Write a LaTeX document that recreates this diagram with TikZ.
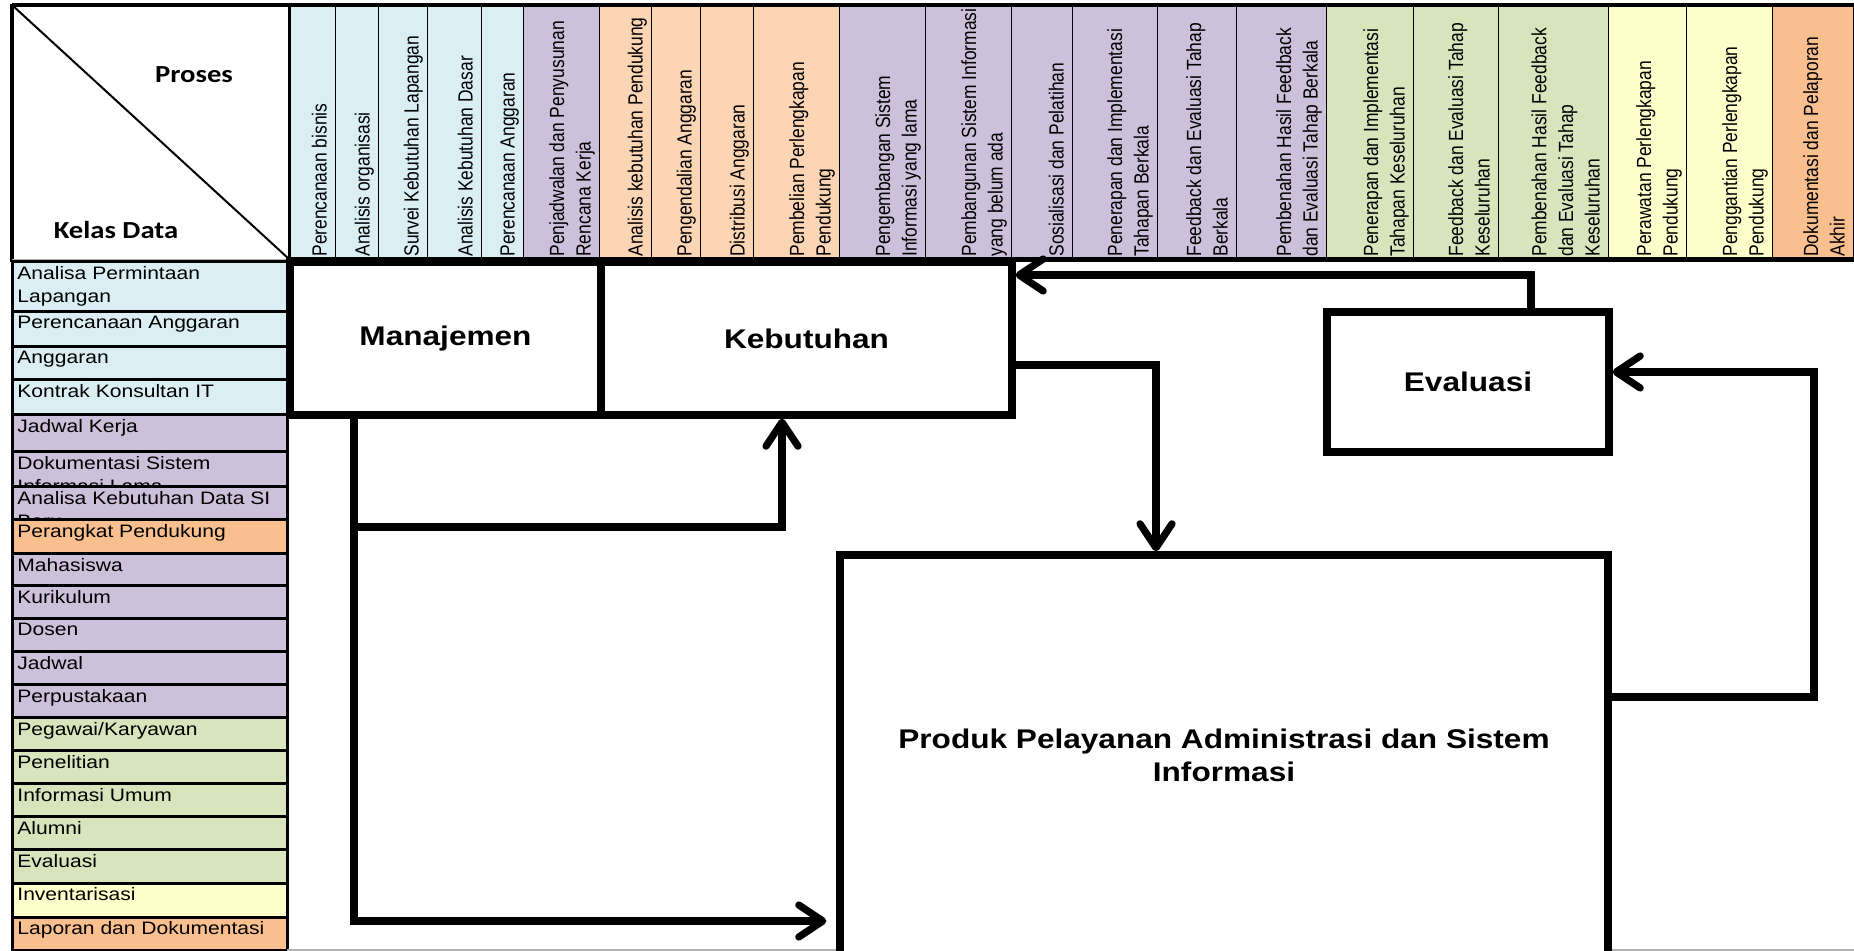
\documentclass[tikz,border=0pt]{standalone}
\usepackage{fontspec}
\setmainfont{Liberation Sans}
\newfontfamily\colfont[FakeStretch=0.85]{Liberation Sans}
\newfontfamily\rowfont[FakeStretch=1.17]{Liberation Sans}
\newfontfamily\boxfont[FakeStretch=1.17]{Liberation Sans}
\newfontfamily\hdrfont[FakeStretch=1.17]{Carlito}
\usetikzlibrary{arrows.meta}
\definecolor{cBlue}{HTML}{DAEEF3}
\definecolor{cPurple}{HTML}{CCC0DA}
\definecolor{cPeach}{HTML}{FCD5B4}
\definecolor{cOrange}{HTML}{FABF8F}
\definecolor{cGreen}{HTML}{D8E4BC}
\definecolor{cYellow}{HTML}{FFFFCC}
\tikzset{
  coltxt/.style={rotate=90, anchor=south west, inner sep=0pt, text depth=2pt, align=left,
    font=\colfont\fontsize{10.25}{13.3}\selectfont},
  rowtxt/.style={anchor=north west, inner sep=0pt, align=left,
    font=\rowfont\fontsize{9}{11.5}\selectfont},
  hdrtxt/.style={inner sep=0pt, font=\hdrfont\bfseries\fontsize{12.25}{14}\selectfont},
  bigbox/.style={draw, line width=3.6pt, fill=white, inner sep=0pt, align=center,
    font=\boxfont\bfseries\fontsize{13.5}{16.5}\selectfont},
  tline/.style={line width=1.5pt},
  conn/.style={line width=3.6pt, -{Straight Barb[length=12pt, width=16pt, line cap=round, line join=round]}}
}
\begin{document}
\begin{tikzpicture}[x=0.5pt, y=-0.5pt]
\useasboundingbox (0,0) rectangle (1854,951);
\fill[white] (0,0) rectangle (1854,951);

% header columns
\foreach \xa/\xb/\cc/\lab [count=\i] in {
  289/336/cBlue/{Perencanaan bisnis},
  336/379/cBlue/{Analisis organisasi},
  379/428/cBlue/{Survei Kebutuhan Lapangan},
  428/482/cBlue/{Analisis Kebutuhan Dasar},
  482/524/cBlue/{Perencanaan Anggaran},
  524/600/cPurple/{Penjadwalan dan Penyusunan\\Rencana Kerja},
  600/652/cPeach/{Analisis kebutuhan Pendukung},
  652/701/cPeach/{Pengendalian Anggaran},
  701/754/cPeach/{Distribusi Anggaran},
  754/840/cPeach/{Pembelian Perlengkapan\\Pendukung},
  840/926/cPurple/{Pengembangan Sistem\\Informasi yang lama},
  926/1012/cPurple/{Pembangunan Sistem Informasi\\yang belum ada},
  1012/1073/cPurple/{Sosialisasi dan Pelatihan},
  1073/1158/cPurple/{Penerapan dan Implementasi\\Tahapan Berkala},
  1158/1237/cPurple/{Feedback dan Evaluasi Tahap\\Berkala},
  1237/1327/cPurple/{Pembenahan Hasil Feedback\\dan Evaluasi Tahap Berkala},
  1327/1414/cGreen/{Penerapan dan Implementasi\\Tahapan Keseluruhan},
  1414/1499/cGreen/{Feedback dan Evaluasi Tahap\\Keseluruhan},
  1499/1609/cGreen/{Pembenahan Hasil Feedback\\dan Evaluasi Tahap\\Keseluruhan},
  1609/1687/cYellow/{Perawatan Perlengkapan\\Pendukung},
  1687/1773/cYellow/{Penggantian Perlengkapan\\Pendukung},
  1773/1854/cOrange/{Dokumentasi dan Pelaporan\\Akhir}}{
  \fill[fill=\cc] (\xa,5) rectangle (\xb,260);
  \node[coltxt] (h\i) at ({\xb-5},257) {\lab};
  \draw[tline] (\xb,5) -- (\xb,260);
}
\draw[tline] (289,5) -- (289,260);
\draw[line width=2pt] (12,5) -- (1854,5);
\draw[line width=2.5pt] (289,260) -- (1854,260);
\draw[line width=2pt] (12,4) -- (12,262);
\draw[gray!60, line width=0.6pt] (12,260) -- (289,260);
\draw[line width=1pt] (12,5) -- (289,259);
\node[hdrtxt] (proses) at (194,75) {Proses};
\node[hdrtxt] (kelas) at (116,230) {Kelas Data};

% rows
\foreach \ya/\yb/\cc/\lab [count=\i] in {
  262/312/cBlue/{Analisa Permintaan\\Lapangan},
  312/347/cBlue/{Perencanaan Anggaran},
  347/380/cBlue/{Anggaran},
  380/415/cBlue/{Kontrak Konsultan IT},
  415/452/cPurple/{Jadwal Kerja},
  452/487/cPurple/{Dokumentasi Sistem\\Informasi Lama},
  487/520/cPurple/{Analisa Kebutuhan Data SI\\Baru},
  520/554/cOrange/{Perangkat Pendukung},
  554/586/cPurple/{Mahasiswa},
  586/619/cPurple/{Kurikulum},
  619/652/cPurple/{Dosen},
  652/685/cPurple/{Jadwal},
  685/718/cPurple/{Perpustakaan},
  718/751/cGreen/{Pegawai/Karyawan},
  751/784/cGreen/{Penelitian},
  784/817/cGreen/{Informasi Umum},
  817/850/cGreen/{Alumni},
  850/883/cGreen/{Evaluasi},
  883/917/cYellow/{Inventarisasi},
  917/950/cOrange/{Laporan dan Dokumentasi}}{
  \fill[fill=\cc] (12,\ya) rectangle (287,\yb);
  \node[rowtxt] (r\i) at (17,{\ya+4}) {\lab};
}
\foreach \ya/\yb in {262/312,312/347,347/380,380/415,415/452,452/487,487/520,520/554,
  554/586,586/619,619/652,652/685,685/718,718/751,751/784,784/817,817/850,850/883,883/917,917/950}{
  \draw[tline] (12,\ya) rectangle (287,\yb);
}
\draw[gray!60, line width=0.6pt] (287,950) -- (1854,950);

% boxes
\node[bigbox, minimum width=155.5pt, minimum height=76.5pt] (man) at (445.5,338.5) {Manajemen};
\node[bigbox, minimum width=205.5pt, minimum height=76.5pt] (keb) at (806.5,338.5) {Kebutuhan};
\node[bigbox, minimum width=141pt, minimum height=70pt] (eval) at (1468,382) {Evaluasi};
\node[bigbox, minimum width=384pt, minimum height=200pt] (prod) at (1224,755) {Produk Pelayanan Administrasi dan Sistem\\Informasi};

% connectors
\coordinate (c1) at (354,527);
\coordinate (c2) at (782,527);
\coordinate (c3) at (354,921);
\coordinate (c4) at (1156,365);
\coordinate (c5) at (1531,275);
\coordinate (c6) at (1814,697);
\coordinate (c7) at (1814,372);
\draw[conn, shorten >=5pt] (c1 |- man.south) -- (c3) -- (c3 -| prod.west);
\draw[conn] (c1) -- (c2) -- (c2 |- keb.south);
\draw[conn] (c4 -| keb.east) -- (c4) -- (c4 |- prod.north);
\draw[conn] (c5 |- eval.north) -- (c5) -- (c5 -| keb.east);
\draw[conn] (c6 -| prod.east) -- (c6) -- (c7) -- (c7 -| eval.east);
\end{tikzpicture}
\end{document}
